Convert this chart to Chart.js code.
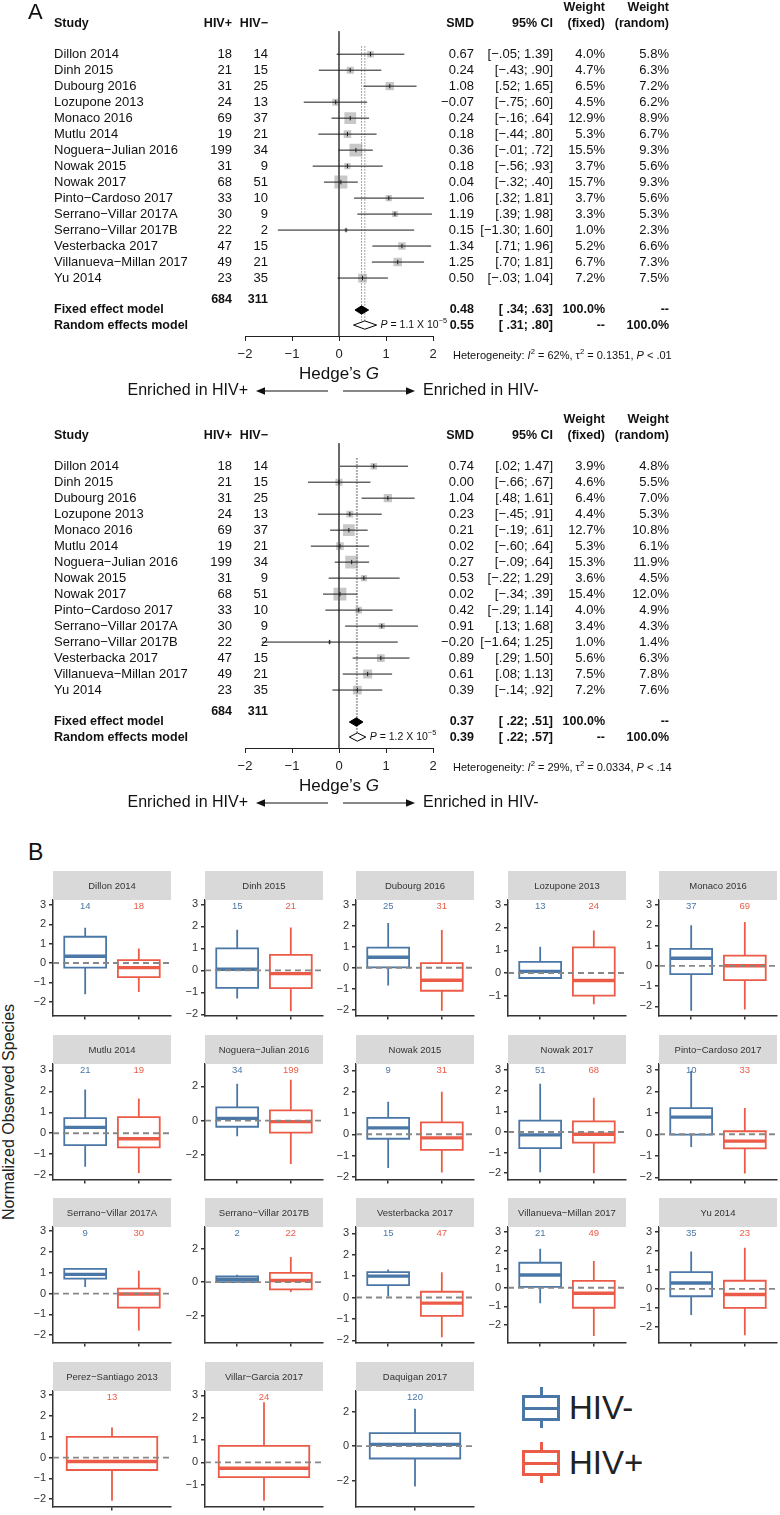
<!DOCTYPE html>
<html>
<head>
<meta charset="utf-8">
<script src="https://cdn.jsdelivr.net/npm/chart.js@4.4.0/dist/chart.umd.min.js"></script>
<style>
  body { margin: 0; background: #fff; font-family: "Liberation Sans", Arial, Helvetica, sans-serif; }
  #page { position: relative; width: 780px; height: 1515px; overflow: hidden; background: #fff; }
  canvas { position: absolute; }
  .lbl { position: absolute; color: #111; white-space: nowrap; }
  .key { position: absolute; width: 38px; height: 41px; }
  .key div { position: absolute; box-sizing: border-box; }
</style>
</head>
<body>
<div id="page">
  <canvas id="forest1" width="780" height="400" style="left:0;top:0"></canvas>
  <canvas id="forest2" width="780" height="400" style="left:0;top:412px"></canvas>
  <div class="lbl" style="left:28px;top:838px;font-size:23px;line-height:28px">B</div>
  <div class="lbl" style="left:-121px;top:1102px;width:260px;text-align:center;font-size:16px;line-height:20px;color:#222;transform:rotate(-90deg)">Normalized Observed Species</div>
  <div id="legend"></div>
</div>
<script>
// ---- panel A data ----
var studies = ['Dillon 2014', 'Dinh 2015', 'Dubourg 2016', 'Lozupone 2013', 'Monaco 2016', 'Mutlu 2014',
  'Noguera\u2212Julian 2016', 'Nowak 2015', 'Nowak 2017', 'Pinto\u2212Cardoso 2017', 'Serrano\u2212Villar 2017A',
  'Serrano\u2212Villar 2017B', 'Vesterbacka 2017', 'Villanueva\u2212Millan 2017', 'Yu 2014'];
var hivPos = [18, 21, 31, 24, 69, 19, 199, 31, 68, 33, 30, 22, 47, 49, 23];
var hivNeg = [14, 15, 25, 13, 37, 21, 34, 9, 51, 10, 9, 2, 15, 21, 35];

// upper forest plot
var smd1 = [0.67, 0.24, 1.08, -0.07, 0.24, 0.18, 0.36, 0.18, 0.04, 1.06, 1.19, 0.15, 1.34, 1.25, 0.50];
var lo1 = [-0.05, -0.43, 0.52, -0.75, -0.16, -0.44, -0.01, -0.56, -0.32, 0.32, 0.39, -1.30, 0.71, 0.70, -0.03];
var hi1 = [1.39, 0.90, 1.65, 0.60, 0.64, 0.80, 0.72, 0.93, 0.40, 1.81, 1.98, 1.60, 1.96, 1.81, 1.04];
var wFixed1 = [4.0, 4.7, 6.5, 4.5, 12.9, 5.3, 15.5, 3.7, 15.7, 3.7, 3.3, 1.0, 5.2, 6.7, 7.2];
var wRandom1 = [5.8, 6.3, 7.2, 6.2, 8.9, 6.7, 9.3, 5.6, 9.3, 5.6, 5.3, 2.3, 6.6, 7.3, 7.5];
var fixed1 = [0.48, 0.34, 0.63];
var random1 = [0.55, 0.31, 0.80];
var het1 = ['62%', '0.1351', '< .01'];
var pval1 = '1.1';

// lower forest plot
var smd2 = [0.74, 0.00, 1.04, 0.23, 0.21, 0.02, 0.27, 0.53, 0.02, 0.42, 0.91, -0.20, 0.89, 0.61, 0.39];
var lo2 = [0.02, -0.66, 0.48, -0.45, -0.19, -0.60, -0.09, -0.22, -0.34, -0.29, 0.13, -1.64, 0.29, 0.08, -0.14];
var hi2 = [1.47, 0.67, 1.61, 0.91, 0.61, 0.64, 0.64, 1.29, 0.39, 1.14, 1.68, 1.25, 1.50, 1.13, 0.92];
var wFixed2 = [3.9, 4.6, 6.4, 4.4, 12.7, 5.3, 15.3, 3.6, 15.4, 4.0, 3.4, 1.0, 5.6, 7.5, 7.2];
var wRandom2 = [4.8, 5.5, 7.0, 5.3, 10.8, 6.1, 11.9, 4.5, 12.0, 4.9, 4.3, 1.4, 6.3, 7.8, 7.6];
var fixed2 = [0.37, 0.22, 0.51];
var random2 = [0.39, 0.22, 0.57];
var het2 = ['29%', '0.0334', '< .14'];
var pval2 = '1.2';

// ---- panel B data ----
var panelTitles = ['Dillon 2014', 'Dinh 2015', 'Dubourg 2016', 'Lozupone 2013', 'Monaco 2016',
  'Mutlu 2014', 'Noguera\u2212Julian 2016', 'Nowak 2015', 'Nowak 2017', 'Pinto\u2212Cardoso 2017',
  'Serrano\u2212Villar 2017A', 'Serrano\u2212Villar 2017B', 'Vesterbacka 2017', 'Villanueva\u2212Millan 2017', 'Yu 2014',
  'Perez\u2212Santiago 2013', 'Villar\u2212Garcia 2017', 'Daquigan 2017'];
var nNeg = [14, 15, 25, 13, 37, 21, 34, 9, 51, 10, 9, 2, 15, 21, 35, null, null, 120];
var nPos = [18, 21, 31, 24, 69, 19, 199, 31, 68, 33, 30, 22, 47, 49, 23, 13, 24, null];
// [min, q1, median, q3, max]
var negStats = [
  [-1.62, -0.24, 0.35, 1.36, 1.82], [-1.28, -0.80, 0.05, 1.00, 1.85], [-0.85, 0.02, 0.50, 0.96, 2.14],
  [-0.22, -0.22, 0.07, 0.49, 1.16], [-2.22, -0.41, 0.37, 0.84, 2.00],
  [-1.60, -0.57, 0.28, 0.72, 2.09], [-0.92, -0.36, 0.13, 0.77, 2.15], [-1.58, -0.21, 0.30, 0.77, 1.53],
  [-1.95, -0.78, -0.14, 0.55, 2.34], [-0.59, -0.02, 0.80, 1.22, 2.95],
  [0.31, 0.72, 0.92, 1.19, 1.20], [-0.05, 0.00, 0.17, 0.34, 0.45], [0.05, 0.58, 1.00, 1.19, 1.31],
  [-0.83, 0.05, 0.69, 1.35, 2.10], [-1.38, -0.39, 0.31, 0.88, 1.97],
  null, null, [-2.34, -0.72, 0.10, 0.76, 2.17]];
var posStats = [
  [-1.50, -0.73, -0.24, 0.15, 0.75], [-1.86, -0.81, -0.15, 0.70, 1.95], [-2.06, -1.10, -0.60, 0.22, 1.80],
  [-1.38, -1.00, -0.33, 1.13, 1.87], [-2.16, -0.71, 0.00, 0.50, 2.16],
  [-1.90, -0.67, -0.26, 0.77, 1.66], [-2.53, -0.70, -0.06, 0.60, 2.38], [-1.80, -0.73, -0.17, 0.56, 2.00],
  [-2.00, -0.52, -0.11, 0.52, 1.66], [-1.83, -0.66, -0.32, 0.14, 1.22],
  [-1.78, -0.68, -0.02, 0.24, 1.10], [-0.58, -0.43, 0.10, 0.56, 1.50], [-1.86, -0.86, -0.26, 0.27, 1.18],
  [-2.60, -1.08, -0.30, 0.37, 1.44], [-2.45, -1.00, -0.30, 0.43, 2.17],
  [-2.08, -0.60, -0.19, 0.99, 1.45], [-1.72, -0.66, -0.26, 0.74, 2.70], null];
var yLow = [-2.71, -2.05, -2.28, -1.87, -2.45, -2.2, -3.43, -2.12, -2.3, -2.1, -2.35, -3.6, -2.1, -2.95, -2.83, -2.35, -1.97, -3.5];
var yHigh = [3.26, 3.2, 3.24, 3.22, 3.25, 3.3, 3.3, 3.3, 3.3, 3.27, 3.2, 3.3, 3.3, 3.28, 3.27, 3.2, 3.2, 3.2];

var FONT = '"Liberation Sans", Arial, Helvetica, sans-serif';
var BLUE = '#4a77a6';
var RED = '#eb5b47';
var AX = '#333333';

function font(size, bold, italic) {
  return (italic ? 'italic ' : '') + (bold ? 'bold ' : '') + size + 'px ' + FONT;
}
function put(ctx, t, x, y, align, f, color) {
  ctx.font = f;
  ctx.textAlign = align;
  ctx.textBaseline = 'middle';
  ctx.fillStyle = color || '#111';
  ctx.fillText(t, x, y);
}
// text made of runs: style '' plain, 'i' italic, 's' superscript
function runs(ctx, parts, x, y, size, align) {
  var w = 0;
  var specs = parts.map(function(p) {
    var f = p[1] === 's' ? font(size * 0.7) : font(size, false, p[1] === 'i');
    ctx.font = f;
    var ww = ctx.measureText(p[0]).width;
    w += ww;
    return { t: p[0], f: f, w: ww, dy: p[1] === 's' ? -size * 0.4 : 0 };
  });
  var cx = align === 'center' ? x - w / 2 : x;
  ctx.textAlign = 'left';
  ctx.textBaseline = 'middle';
  ctx.fillStyle = '#111';
  specs.forEach(function(s) { ctx.font = s.f; ctx.fillText(s.t, cx, y + s.dy); cx += s.w; });
}
function minus(v) { return v < 0 ? '\u2212' + Math.abs(v) : String(v); }
function num(v) {
  var a = Math.abs(v);
  var s = a < 1 ? a.toFixed(2).slice(1) : a.toFixed(2);
  return (v < 0 ? '\u2212' : '') + s;
}
function ciText(l, h, pad) { return '[' + (pad && l >= 0 ? ' ' : '') + num(l) + '; ' + num(h) + ']'; }
function smdText(v) { return (v < 0 ? '\u2212' : '') + Math.abs(v).toFixed(2); }
function sum(a) { return a.reduce(function(s, v) { return s + v; }, 0); }

// ---- forest plots ----
var YMAX = 20.625, ROW0 = 3, TOTAL = 18.375, FIXED = 19.0, RANDOM = 19.94;
var COL = { study: 54, pos: 232, neg: 268, smd: 474, ci: 553, wf: 605, wr: 669 };

function diamond(est, yv, fillColor) {
  return {
    data: [{ x: est[1], y: yv }, { x: est[0], y: yv - 0.26 }, { x: est[2], y: yv }, { x: est[0], y: yv + 0.26 }, { x: est[1], y: yv }],
    borderColor: '#000', borderWidth: 1, backgroundColor: fillColor, fill: 'shape', pointRadius: 0, order: 1
  };
}

function forest(id, smd, lo, hi, wf, wr, fixed, random, het, pval, showA) {
  var ds = [];
  ds.push({ data: [{ x: 0, y: 1.56 }, { x: 0, y: YMAX }], borderColor: '#555', borderWidth: 1, pointRadius: 0, order: 6 });
  ds.push({ data: [{ x: fixed[0], y: 2.5 }, { x: fixed[0], y: RANDOM }], borderColor: '#8a8a8a', borderWidth: 1, borderDash: [1.5, 1.5], pointRadius: 0, order: 5 });
  ds.push({ data: [{ x: random[0], y: 2.5 }, { x: random[0], y: RANDOM }], borderColor: '#8a8a8a', borderWidth: 1, borderDash: [1.5, 1.5], pointRadius: 0, order: 5 });
  ds.push({
    data: smd.map(function(v, i) { return { x: v, y: ROW0 + i }; }), showLine: false,
    pointStyle: 'rect', pointRadius: wf.map(function(w) { return 2.32 * Math.sqrt(w); }),
    pointBackgroundColor: '#c8c8c8', pointBorderWidth: 0, order: 7
  });
  smd.forEach(function(v, i) {
    ds.push({ data: [{ x: lo[i], y: ROW0 + i }, { x: hi[i], y: ROW0 + i }], borderColor: '#1a1a1a', borderWidth: 1, pointRadius: 0, order: 3 });
  });
  ds.push({
    data: smd.map(function(v, i) { return { x: v, y: ROW0 + i }; }), showLine: false,
    pointStyle: 'line', pointRotation: 90, pointRadius: 2.2, pointBorderColor: '#1a1a1a', pointBorderWidth: 1, order: 2
  });
  ds.push(diamond(fixed, FIXED, '#000'));
  ds.push(diamond(random, RANDOM, '#fff'));

  var textPlugin = {
    id: 'forestText',
    afterDraw: function(chart) {
      var ctx = chart.ctx, xs = chart.scales.x, ys = chart.scales.y, a = chart.chartArea;
      var Y = function(v) { return ys.getPixelForValue(v); };
      var reg = font(13), bold = font(12.5, true);
      ctx.save();
      if (showA) put(ctx, 'A', 28, 13, 'left', font(22), '#111');
      put(ctx, 'Weight', COL.wf, Y(0.06), 'right', bold);
      put(ctx, 'Weight', COL.wr, Y(0.06), 'right', bold);
      put(ctx, 'Study', COL.study, Y(1.06), 'left', bold);
      put(ctx, 'HIV+', COL.pos, Y(1.06), 'right', bold);
      put(ctx, 'HIV\u2212', COL.neg, Y(1.06), 'right', bold);
      put(ctx, 'SMD', COL.smd, Y(1.06), 'right', bold);
      put(ctx, '95% CI', COL.ci, Y(1.06), 'right', bold);
      put(ctx, '(fixed)', COL.wf, Y(1.06), 'right', bold);
      put(ctx, '(random)', COL.wr, Y(1.06), 'right', bold);
      studies.forEach(function(s, i) {
        var y = Y(ROW0 + i);
        put(ctx, s, COL.study, y, 'left', reg);
        put(ctx, String(hivPos[i]), COL.pos, y, 'right', reg);
        put(ctx, String(hivNeg[i]), COL.neg, y, 'right', reg);
        put(ctx, smdText(smd[i]), COL.smd, y, 'right', reg);
        put(ctx, ciText(lo[i], hi[i], false), COL.ci, y, 'right', reg);
        put(ctx, wf[i].toFixed(1) + '%', COL.wf, y, 'right', reg);
        put(ctx, wr[i].toFixed(1) + '%', COL.wr, y, 'right', reg);
      });
      put(ctx, String(sum(hivPos)), COL.pos, Y(TOTAL), 'right', bold);
      put(ctx, String(sum(hivNeg)), COL.neg, Y(TOTAL), 'right', bold);
      [[FIXED, 'Fixed effect model', fixed, '100.0%', '--'], [RANDOM, 'Random effects model', random, '--', '100.0%']].forEach(function(r) {
        var y = Y(r[0]);
        put(ctx, r[1], COL.study, y, 'left', bold);
        put(ctx, smdText(r[2][0]), COL.smd, y, 'right', bold);
        put(ctx, ciText(r[2][1], r[2][2], true), COL.ci, y, 'right', bold);
        put(ctx, r[3], COL.wf, y, 'right', bold);
        put(ctx, r[4], COL.wr, y, 'right', bold);
      });
      runs(ctx, [['P', 'i'], [' = ' + pval + ' X 10', ''], ['\u22125', 's']], xs.getPixelForValue(random[2]) + 4, Y(RANDOM), 10.5, 'left');
      runs(ctx, [['Heterogeneity: ', ''], ['I', 'i'], ['2', 's'], [' = ' + het[0] + ', \u03c4', ''], ['2', 's'],
        [' = ' + het[1] + ', ', ''], ['P', 'i'], [' ' + het[2], '']], 453, a.bottom + 20, 11, 'left');
      runs(ctx, [['Hedge\u2019s ', ''], ['G', 'i']], (a.left + a.right) / 2, a.bottom + 38, 17, 'center');
      // direction arrows
      var ya = a.bottom + 55, x0 = xs.getPixelForValue(0), xl = xs.getPixelForValue(-2), xr = xs.getPixelForValue(2);
      ctx.strokeStyle = '#111'; ctx.fillStyle = '#111'; ctx.lineWidth = 1.2;
      ctx.beginPath(); ctx.moveTo(x0 - 11, ya); ctx.lineTo(xl + 16, ya); ctx.stroke();
      ctx.beginPath(); ctx.moveTo(xl + 11, ya); ctx.lineTo(xl + 20, ya - 3.8); ctx.lineTo(xl + 20, ya + 3.8); ctx.closePath(); ctx.fill();
      ctx.beginPath(); ctx.moveTo(x0 + 4, ya); ctx.lineTo(xr - 22, ya); ctx.stroke();
      ctx.beginPath(); ctx.moveTo(xr - 18, ya); ctx.lineTo(xr - 27, ya - 3.8); ctx.lineTo(xr - 27, ya + 3.8); ctx.closePath(); ctx.fill();
      put(ctx, 'Enriched in HIV+', xl + 3, ya, 'right', font(16));
      put(ctx, 'Enriched in HIV-', xr - 10, ya, 'left', font(16));
      ctx.restore();
    }
  };

  new Chart(document.getElementById(id), {
    type: 'line',
    data: { datasets: ds },
    options: {
      responsive: false, animation: false, events: [], devicePixelRatio: 1,
      layout: { padding: { left: 245, right: 347, top: 6, bottom: 34 } },
      plugins: { legend: { display: false }, tooltip: { enabled: false } },
      elements: { point: { radius: 0 }, line: { tension: 0 } },
      scales: {
        x: {
          type: 'linear', min: -2, max: 2,
          afterFit: function(s) { s.height = 30; },
          ticks: { stepSize: 1, padding: 6, color: '#222', font: { size: 13, family: FONT }, callback: minus },
          grid: { drawOnChartArea: false, tickLength: 5, color: '#222', lineWidth: 1 },
          border: { color: '#222', width: 1 }
        },
        y: { type: 'linear', display: false, min: 0, max: YMAX, reverse: true }
      }
    },
    plugins: [textPlugin]
  });
}

forest('forest1', smd1, lo1, hi1, wFixed1, wRandom1, fixed1, random1, het1, pval1, true);
forest('forest2', smd2, lo2, hi2, wFixed2, wRandom2, fixed2, random2, het2, pval2, false);

// ---- box plot panels ----
function boxSets(c, st, color, hw) {
  var line = { borderColor: color, pointRadius: 0, order: 1 };
  return [
    Object.assign({ data: [{ x: c, y: st[3] }, { x: c, y: st[4] }], borderWidth: 1.8 }, line),
    Object.assign({ data: [{ x: c, y: st[1] }, { x: c, y: st[0] }], borderWidth: 1.8 }, line),
    Object.assign({ data: [{ x: c - hw, y: st[1] }, { x: c + hw, y: st[1] }, { x: c + hw, y: st[3] }, { x: c - hw, y: st[3] }, { x: c - hw, y: st[1] }, { x: c + hw, y: st[1] }], borderWidth: 1.8, borderJoinStyle: 'miter' }, line),
    Object.assign({ data: [{ x: c - hw, y: st[2] }, { x: c + hw, y: st[2] }], borderWidth: 3.4 }, line)
  ];
}

var page = document.getElementById('page');
panelTitles.forEach(function(title, i) {
  var col = i % 5, row = Math.floor(i / 5);
  var cv = document.createElement('canvas');
  cv.width = 152; cv.height = 154;
  cv.style.left = Math.round(53 + col * 151.5 - 32) + 'px';
  cv.style.top = Math.round(871 + row * 163.7) + 'px';
  page.appendChild(cv);

  var both = negStats[i] && posStats[i];
  var xMax = both ? 2.6 : 1.6, hw = both ? 0.39 : 0.46;
  var cNeg = 1, cPos = both ? 2 : 1;
  var ds = [{ data: [{ x: 0.4, y: 0 }, { x: xMax, y: 0 }], borderColor: '#888888', borderWidth: 1.8, borderDash: [6, 4], pointRadius: 0, order: 0 }];
  if (negStats[i]) ds = ds.concat(boxSets(cNeg, negStats[i], BLUE, hw));
  if (posStats[i]) ds = ds.concat(boxSets(cPos, posStats[i], RED, hw));
  var cats = both ? [1, 2] : [1];
  var step = (yHigh[i] - yLow[i]) > 6.5 ? 2 : 1;

  var deco = {
    id: 'deco',
    afterDraw: function(chart) {
      var ctx = chart.ctx, a = chart.chartArea, xs = chart.scales.x;
      ctx.save();
      ctx.fillStyle = '#d9d9d9';
      ctx.fillRect(a.left, 0, a.right - a.left, 29);
      put(ctx, title, (a.left + a.right) / 2, 15, 'center', font(9.5), '#333');
      if (nNeg[i] != null) put(ctx, String(nNeg[i]), xs.getPixelForValue(cNeg), a.top + 6, 'center', font(9.5), BLUE);
      if (nPos[i] != null) put(ctx, String(nPos[i]), xs.getPixelForValue(cPos), a.top + 6, 'center', font(9.5), RED);
      ctx.restore();
    }
  };

  new Chart(cv, {
    type: 'line',
    data: { datasets: ds },
    options: {
      responsive: false, animation: false, events: [], devicePixelRatio: 1,
      layout: { padding: { left: 0, right: 2, top: 29, bottom: 0 } },
      plugins: { legend: { display: false }, tooltip: { enabled: false } },
      elements: { point: { radius: 0 }, line: { tension: 0 } },
      scales: {
        x: {
          type: 'linear', min: 0.4, max: xMax,
          afterBuildTicks: function(s) { s.ticks = cats.map(function(v) { return { value: v }; }); },
          afterFit: function(s) { s.height = 8; },
          ticks: { display: false },
          grid: { drawOnChartArea: false, tickLength: 4, color: AX, lineWidth: 1.5 },
          border: { color: AX, width: 1.5 }
        },
        y: {
          type: 'linear', min: yLow[i], max: yHigh[i],
          afterBuildTicks: function(s) {
            var t = [];
            for (var v = Math.ceil(yLow[i] / step) * step; v <= yHigh[i]; v += step) t.push({ value: v });
            s.ticks = t;
          },
          afterFit: function(s) { s.width = 32; },
          ticks: { padding: 3, color: '#333', font: { size: 11, family: FONT }, callback: minus },
          grid: { drawOnChartArea: false, tickLength: 4, color: AX, lineWidth: 1.5 },
          border: { color: AX, width: 1.5 }
        }
      }
    },
    plugins: [deco]
  });
});

// ---- legend ----
var legend = document.getElementById('legend');
[['HIV-', BLUE, 1387], ['HIV+', RED, 1442]].forEach(function(k) {
  var c = k[1];
  var key = document.createElement('div');
  key.className = 'key';
  key.style.left = '522px'; key.style.top = k[2] + 'px';
  key.innerHTML =
    '<div style="left:17.5px;top:0;width:3.5px;height:9px;background:' + c + '"></div>' +
    '<div style="left:0;top:8px;width:38px;height:26px;border:3.5px solid ' + c + '"></div>' +
    '<div style="left:0;top:19.5px;width:38px;height:3.5px;background:' + c + '"></div>' +
    '<div style="left:17.5px;top:33px;width:3.5px;height:8px;background:' + c + '"></div>';
  legend.appendChild(key);
  var t = document.createElement('div');
  t.className = 'lbl';
  t.style.left = '569px'; t.style.top = (k[2] + 21 - 19) + 'px';
  t.style.fontSize = '33px'; t.style.lineHeight = '38px'; t.style.color = '#222';
  t.textContent = k[0];
  legend.appendChild(t);
});
</script>
</body>
</html>
